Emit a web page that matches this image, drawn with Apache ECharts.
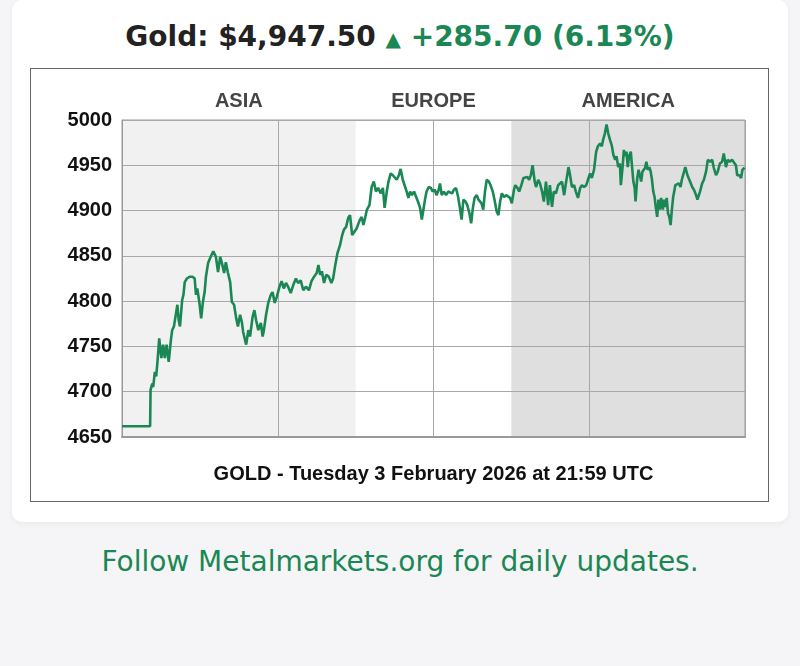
<!DOCTYPE html>
<html>
<head>
<meta charset="utf-8">
<title>Gold price</title>
<script src="https://cdn.jsdelivr.net/npm/echarts@6/dist/echarts.min.js"></script>
<style>
  body { margin: 0; background: #f5f5f7; width: 800px; height: 666px; position: relative; overflow: hidden; font-family: "DejaVu Sans", sans-serif; }
  .card { position: absolute; left: 12px; top: 0; width: 776px; height: 522px; background: #fff; border-radius: 10px; box-shadow: 0 2px 6px rgba(0,0,0,0.05); }
  .headline { position: absolute; left: 0; top: 20px; width: 800px; text-align: center; font-size: 28px; line-height: 34px; font-weight: bold; color: #222; white-space: nowrap; }
  .headline .up { color: #1a8754; }
  .headline .tri { font-size: 20px; }
  .box { position: absolute; left: 30px; top: 68px; width: 739px; height: 434px; box-sizing: border-box; border: 1px solid #666; background: #fff; }
  #chart { width: 737px; height: 432px; }
  .follow { position: absolute; left: 0; top: 545px; width: 800px; text-align: center; font-size: 28px; line-height: 34px; color: #1a8754; }
</style>
</head>
<body>
<div class="card"></div>
<div class="headline">Gold: $4,947.50 <span class="up"><span class="tri">▲</span> +285.70 (6.13%)</span></div>
<div class="box"><div id="chart"></div></div>
<div class="follow">Follow Metalmarkets.org for daily updates.</div>
<script>
// minutes since session open (22:00 UTC previous day)
var times = [
  0, 65, 66, 70, 72, 76, 79, 82, 86, 91, 95, 99, 103, 108, 113, 116, 120, 123, 128, 131,
  134, 139, 142, 145, 150, 157, 163, 168, 171, 174, 179, 183, 187, 191, 194, 199, 205, 211, 217, 222,
  227, 231, 236, 240, 245, 250, 254, 259, 264, 268, 273, 277, 280, 287, 292, 296, 302, 306, 310, 315,
  321, 325, 328, 333, 338, 344, 348, 353, 358, 364, 369, 374, 379, 384, 390, 396, 402, 407, 413, 419,
  425, 432, 438, 444, 450, 454, 458, 462, 467, 472, 478, 484, 488, 493, 498, 504, 509, 513, 518, 523,
  527, 532, 536, 542, 550, 554, 558, 562, 566, 572, 577, 582, 587, 592, 598, 603, 607, 612, 616, 621,
  626, 630, 635, 640, 644, 649, 653, 658, 662, 666, 670, 675, 680, 684, 689, 693, 696, 701, 704, 709,
  714, 718, 723, 727, 732, 735, 739, 744, 749, 754, 758, 763, 767, 772, 777, 781, 785, 789, 794, 798,
  803, 807, 811, 815, 820, 824, 827, 831, 835, 839, 843, 848, 852, 857, 861, 866, 870, 874, 878, 883,
  888, 892, 897, 901, 906, 909, 914, 918, 923, 928, 932, 937, 941, 945, 949, 954, 957, 962, 966, 971,
  975, 980, 985, 989, 994, 998, 1003, 1008, 1012, 1017, 1022, 1026, 1029, 1032, 1035, 1040, 1045, 1049, 1054, 1059,
  1063, 1068, 1073, 1077, 1082, 1086, 1091, 1096, 1100, 1105, 1109, 1112, 1116, 1120, 1124, 1128, 1132, 1136, 1140, 1143,
  1147, 1151, 1153, 1157, 1160, 1163, 1166, 1169, 1172, 1176, 1179, 1182, 1185, 1187, 1191, 1194, 1197, 1200, 1203, 1206,
  1209, 1212, 1215, 1219, 1222, 1225, 1228, 1231, 1234, 1237, 1240, 1243, 1246, 1250, 1253, 1256, 1259, 1262, 1265, 1268,
  1271, 1274, 1279, 1282, 1287, 1291, 1294, 1297, 1302, 1307, 1310, 1313, 1318, 1322, 1327, 1330, 1333, 1336, 1341, 1345,
  1350, 1354, 1359, 1364, 1368, 1373, 1377, 1382, 1387, 1391, 1396, 1400, 1405, 1410, 1414, 1419, 1422, 1427, 1431, 1434,
  1439
];
var prices = [
  4661.8, 4661.8, 4702, 4709, 4705, 4722, 4717, 4733, 4759, 4737, 4752, 4737, 4752, 4733, 4757, 4768, 4772, 4781, 4796, 4779,
  4772, 4801, 4807, 4821, 4825, 4827, 4827, 4825, 4807, 4814, 4798, 4781, 4799, 4810, 4827, 4842, 4849, 4855, 4849, 4832,
  4849, 4842, 4831, 4843, 4831, 4821, 4799, 4796, 4781, 4772, 4785, 4777, 4766, 4752, 4768, 4761, 4783, 4790, 4779, 4768,
  4776, 4761, 4768, 4785, 4798, 4807, 4810, 4798, 4805, 4816, 4822, 4814, 4820, 4816, 4809, 4818, 4825, 4820, 4823, 4812,
  4816, 4812, 4822, 4827, 4831, 4840, 4829, 4833, 4820, 4829, 4827, 4820, 4825, 4840, 4853, 4862, 4873, 4879, 4882, 4892,
  4895, 4873, 4875, 4880, 4890, 4893, 4884, 4892, 4901, 4906, 4926, 4932, 4921, 4925, 4919, 4925, 4903, 4921, 4932, 4941,
  4939, 4941, 4934, 4939, 4946, 4934, 4936, 4921, 4914, 4921, 4917, 4921, 4915, 4910, 4903, 4890, 4899, 4914, 4921, 4926,
  4925, 4921, 4923, 4917, 4923, 4930, 4917, 4921, 4917, 4921, 4923, 4919, 4923, 4925, 4915, 4903, 4890, 4912, 4910, 4906,
  4897, 4886, 4903, 4914, 4917, 4912, 4912, 4908, 4901, 4921, 4934, 4932, 4928, 4921, 4912, 4899, 4895, 4910, 4919, 4915,
  4917, 4915, 4914, 4908, 4923, 4928, 4925, 4921, 4928, 4936, 4934, 4937, 4934, 4939, 4950, 4932, 4926, 4934, 4930, 4921,
  4910, 4932, 4906, 4928, 4904, 4921, 4919, 4928, 4926, 4932, 4917, 4930, 4939, 4948, 4941, 4926, 4928, 4921, 4914, 4925,
  4928, 4926, 4928, 4934, 4941, 4936, 4945, 4965, 4971, 4974, 4971, 4978, 4985, 4995, 4985, 4978, 4972, 4961, 4956, 4960,
  4948, 4952, 4928, 4948, 4967, 4960, 4965, 4948, 4960, 4965, 4948, 4932, 4925, 4910, 4936, 4945, 4939, 4932, 4943, 4941,
  4947, 4954, 4945, 4948, 4943, 4934, 4921, 4915, 4903, 4893, 4912, 4901, 4914, 4901, 4912, 4904, 4914, 4897, 4893, 4884,
  4901, 4915, 4928, 4926, 4930, 4926, 4934, 4932, 4948, 4939, 4937, 4932, 4926, 4923, 4917, 4912, 4910, 4921, 4930, 4934,
  4943, 4956, 4954, 4956, 4947, 4939, 4943, 4952, 4954, 4963, 4948, 4956, 4954, 4956, 4954, 4950, 4939, 4939, 4936, 4945,
  4947.5
];

var regions = ['ASIA', 'EUROPE', 'AMERICA'];
var regionEdges = [0, 540, 900, 1440];
var regionColors = ['#f1f1f1', 'rgba(255,255,255,0)', '#dfdfdf'];

var yTicks = [4650, 5000, 50];
var xTicks = [0, 1440, 360];
var axisTitle = 'GOLD - Tuesday 3 February 2026 at 21:59 UTC';

var chart = echarts.init(document.getElementById('chart'));

var points = times.map(function (t, i) { return [t, prices[i]]; });
var areas = regions.map(function (name, i) {
  return [
    { name: name, xAxis: regionEdges[i], itemStyle: { color: regionColors[i] } },
    { xAxis: regionEdges[i + 1] }
  ];
});

var option = {
  animation: false,
  textStyle: { fontFamily: '"Liberation Sans", Arial, sans-serif' },
  grid: {
    left: 91, right: 23, top: 51, bottom: 64,
    show: true, borderColor: '#999', borderWidth: 1
  },
  xAxis: {
    type: 'value',
    min: xTicks[0], max: xTicks[1], interval: xTicks[2],
    name: axisTitle,
    nameLocation: 'middle',
    nameGap: 27,
    nameTextStyle: { fontSize: 20, fontWeight: 'bold', color: '#111' },
    axisLine: { show: true, lineStyle: { color: '#999', width: 2 } },
    axisTick: { show: false },
    axisLabel: { show: false },
    splitLine: { show: true, lineStyle: { color: '#a8a8a8', width: 1 } }
  },
  yAxis: {
    type: 'value',
    min: yTicks[0], max: yTicks[1], interval: yTicks[2],
    axisLine: { show: true, lineStyle: { color: '#999' } },
    axisTick: { show: false },
    axisLabel: {
      fontSize: 20, fontWeight: 'bold', color: '#111', margin: 10,
      formatter: function (v) { return String(v); }
    },
    splitLine: { show: true, lineStyle: { color: '#a8a8a8', width: 1 } }
  },
  series: [
    {
      // session shading, kept under the grid lines
      type: 'line',
      data: [],
      z: -1,
      silent: true,
      markArea: {
        z: -1,
        silent: true,
        label: { show: true, position: 'top', distance: 9, fontSize: 20, fontWeight: 'bold', color: '#444' },
        data: areas
      }
    },
    {
      type: 'line',
      data: points,
      showSymbol: false,
      lineStyle: { color: '#1a8754', width: 2.6 },
      z: 5
    }
  ]
};

chart.setOption(option);
</script>
</body>
</html>
